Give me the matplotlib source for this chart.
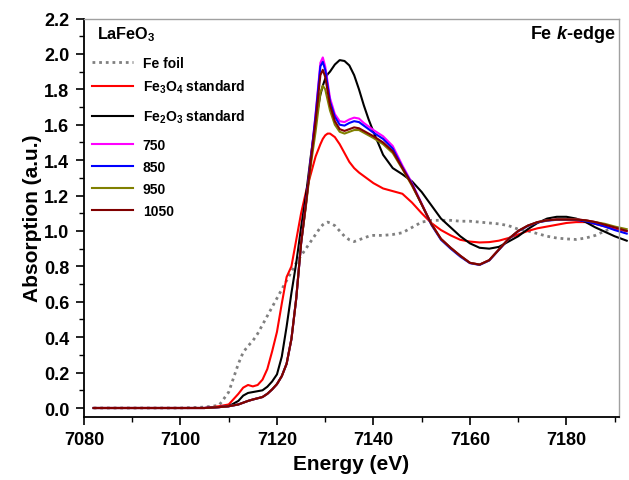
import matplotlib
matplotlib.use("Agg")
import matplotlib.pyplot as plt
from matplotlib.ticker import MultipleLocator, FormatStrFormatter
from matplotlib.lines import Line2D

plt.rcParams['font.family'] = ['Liberation Sans', 'DejaVu Sans']
plt.rcParams['font.weight'] = 'bold'
plt.rcParams['mathtext.fontset'] = 'custom'
plt.rcParams['mathtext.rm'] = 'Liberation Sans:bold'
plt.rcParams['mathtext.bf'] = 'Liberation Sans:bold'
plt.rcParams['mathtext.it'] = 'Liberation Sans:italic:bold'
plt.rcParams['mathtext.default'] = 'rm'

energy = [7082, 7090, 7100, 7105, 7108, 7110, 7112, 7113, 7114, 7115, 7116, 7117,
          7118, 7119, 7120, 7121, 7122, 7123, 7124, 7125, 7126, 7127, 7128, 7129,
          7129.5, 7130, 7130.5, 7131, 7132, 7133, 7134, 7135, 7136, 7137, 7138, 7139,
          7140, 7142, 7144, 7146, 7148, 7150, 7152, 7154, 7156, 7158, 7160, 7162,
          7164, 7166, 7168, 7170, 7172, 7174, 7176, 7178, 7180, 7182, 7184, 7186,
          7188, 7190, 7192.5]

fe_foil = [0.0, 0.0, 0.0, 0.005, 0.015, 0.09, 0.25, 0.315, 0.35, 0.38, 0.42, 0.47,
           0.52, 0.57, 0.62, 0.67, 0.72, 0.77, 0.82, 0.86, 0.90, 0.94, 0.98, 1.02,
           1.035, 1.045, 1.05, 1.045, 1.03, 1.0, 0.97, 0.95, 0.94, 0.95, 0.96, 0.97,
           0.975, 0.975, 0.98, 0.99, 1.02, 1.05, 1.06, 1.06, 1.06, 1.055, 1.055, 1.05,
           1.045, 1.04, 1.03, 1.01, 1.0, 0.985, 0.97, 0.96, 0.955, 0.952, 0.96, 0.975,
           1.0, 1.02, 1.0]

fe3o4 = [0.0, 0.0, 0.0, 0.0, 0.01, 0.02, 0.08, 0.115, 0.13, 0.122, 0.13, 0.16,
         0.22, 0.32, 0.43, 0.59, 0.74, 0.80, 0.95, 1.10, 1.22, 1.32, 1.42, 1.49,
         1.52, 1.54, 1.55, 1.55, 1.53, 1.49, 1.44, 1.39, 1.355, 1.33, 1.31, 1.29,
         1.27, 1.24, 1.225, 1.21, 1.16, 1.10, 1.045, 1.005, 0.975, 0.95, 0.94, 0.935,
         0.937, 0.945, 0.96, 0.98, 1.0, 1.015, 1.025, 1.035, 1.045, 1.05, 1.05, 1.04,
         1.025, 1.01, 1.0]

fe2o3 = [0.0, 0.0, 0.0, 0.0, 0.005, 0.01, 0.04, 0.07, 0.085, 0.09, 0.095, 0.10,
         0.12, 0.15, 0.19, 0.29, 0.46, 0.65, 0.82, 1.02, 1.20, 1.42, 1.62, 1.77,
         1.82, 1.86, 1.885, 1.90, 1.94, 1.965, 1.96, 1.935, 1.88, 1.80, 1.71, 1.63,
         1.56, 1.43, 1.355, 1.32, 1.28, 1.22, 1.145, 1.07, 1.02, 0.97, 0.93, 0.905,
         0.90, 0.91, 0.94, 0.97, 1.01, 1.045, 1.07, 1.08, 1.08, 1.07, 1.05, 1.02,
         0.995, 0.97, 0.945]

s750 = [0.0, 0.0, 0.0, 0.0, 0.005, 0.01, 0.02, 0.03, 0.04, 0.048, 0.055, 0.062,
        0.08, 0.105, 0.135, 0.18, 0.25, 0.39, 0.62, 0.93, 1.15, 1.40, 1.66, 1.95,
        1.98, 1.93, 1.84, 1.75, 1.66, 1.62, 1.615, 1.63, 1.64, 1.635, 1.61, 1.59,
        1.57, 1.535, 1.48, 1.37, 1.27, 1.155, 1.04, 0.955, 0.905, 0.86, 0.82, 0.81,
        0.835, 0.895, 0.955, 1.0, 1.03, 1.05, 1.06, 1.065, 1.065, 1.065, 1.06, 1.05,
        1.035, 1.02, 1.0]

s850 = [0.0, 0.0, 0.0, 0.0, 0.005, 0.01, 0.02, 0.03, 0.04, 0.048, 0.055, 0.062,
        0.08, 0.105, 0.135, 0.18, 0.25, 0.39, 0.62, 0.93, 1.15, 1.40, 1.65, 1.93,
        1.955, 1.91, 1.82, 1.73, 1.645, 1.60, 1.595, 1.61, 1.62, 1.615, 1.595, 1.575,
        1.555, 1.52, 1.465, 1.36, 1.265, 1.15, 1.035, 0.95, 0.9, 0.855, 0.818, 0.808,
        0.833, 0.893, 0.953, 0.998, 1.028, 1.048, 1.058, 1.063, 1.063, 1.062, 1.055, 1.04,
        1.025, 1.005, 0.985]

s950 = [0.0, 0.0, 0.0, 0.0, 0.005, 0.01, 0.02, 0.03, 0.04, 0.048, 0.055, 0.062,
        0.08, 0.105, 0.135, 0.18, 0.25, 0.39, 0.62, 0.93, 1.14, 1.37, 1.56, 1.78,
        1.82, 1.80, 1.74, 1.68, 1.60, 1.56, 1.55, 1.56, 1.57, 1.57, 1.555, 1.54,
        1.525, 1.49, 1.44, 1.35, 1.255, 1.15, 1.04, 0.955, 0.905, 0.86, 0.82, 0.81,
        0.835, 0.895, 0.955, 1.0, 1.03, 1.05, 1.06, 1.065, 1.065, 1.065, 1.06, 1.05,
        1.04, 1.025, 1.01]

s1050 = [0.0, 0.0, 0.0, 0.0, 0.005, 0.01, 0.02, 0.03, 0.04, 0.048, 0.055, 0.062,
         0.08, 0.105, 0.135, 0.18, 0.25, 0.39, 0.62, 0.93, 1.15, 1.39, 1.62, 1.88,
         1.91, 1.87, 1.79, 1.71, 1.62, 1.575, 1.565, 1.575, 1.585, 1.58, 1.565, 1.55,
         1.535, 1.50, 1.45, 1.355, 1.26, 1.15, 1.04, 0.955, 0.905, 0.86, 0.82, 0.81,
         0.835, 0.895, 0.955, 1.0, 1.03, 1.05, 1.06, 1.065, 1.065, 1.065, 1.06, 1.05,
         1.035, 1.02, 1.0]

labels = ['Fe foil', r'Fe$_{3}$O$_{4}$ standard', r'Fe$_{2}$O$_{3}$ standard',
          '750', '850', '950', '1050']
colors = ['#808080', '#FF0000', '#000000', '#FF00FF', '#0000FF', '#808000', '#800000']
styles = [(0, (1, 1.4)), '-', '-', '-', '-', '-', '-']
widths = [2.0, 1.5, 1.5, 1.5, 1.5, 1.5, 1.5]
data = [fe_foil, fe3o4, fe2o3, s750, s850, s950, s1050]

# legend row positions (axes fraction), hand-placed like the original layout
legend_rows = [0.8915, 0.8304, 0.7558, 0.6847, 0.6302, 0.5741, 0.5188]

W, H = 629, 481
fig = plt.figure(figsize=(W / 100, H / 100), dpi=100)
ax = fig.add_axes([84 / W, 1 - 417.5 / H, (619 - 84) / W, (417.5 - 19.5) / H])

for vals, lab, col, ls, lw in zip(data, labels, colors, styles, widths):
    ax.plot(energy, vals, color=col, linestyle=ls, lw=lw, label=lab, clip_on=False)

ax.set_xlim(7080, 7190.9)
ax.set_ylim(-0.048, 2.2)
ax.xaxis.set_major_locator(MultipleLocator(20))
ax.xaxis.set_minor_locator(MultipleLocator(10))
ax.yaxis.set_major_locator(MultipleLocator(0.2))
ax.yaxis.set_minor_locator(MultipleLocator(0.1))
ax.yaxis.set_major_formatter(FormatStrFormatter('%.1f'))

ax.tick_params(which='major', direction='out', length=5.5, width=1.2, labelsize=13, pad=5)
ax.tick_params(which='minor', direction='out', length=3.3, width=1.0)
ax.tick_params(top=False, right=False)
for s in ['left', 'bottom']:
    ax.spines[s].set_linewidth(1.3)
for s in ['top', 'right']:
    ax.spines[s].set_color('#a0a0a0')
    ax.spines[s].set_linewidth(1.0)

for lbl in ax.get_xticklabels() + ax.get_yticklabels():
    lbl.set_fontweight('bold')

ax.set_xlabel('Energy (eV)', fontsize=15, fontweight='bold', labelpad=4)
ax.set_ylabel('Absorption (a.u.)', fontsize=15, fontweight='bold', labelpad=1.5)

ax.text(0.0237, 0.951, r'LaFeO$_{3}$', transform=ax.transAxes, fontsize=11.7,
        fontweight='bold', va='baseline', ha='left')
ax.text(0.9925, 0.950, r'Fe $\mathit{k}$-edge', transform=ax.transAxes, fontsize=13,
        fontweight='bold', va='baseline', ha='right')

# legend entries
for fy, lab, col, ls, lw in zip(legend_rows, labels, colors, styles, widths):
    ax.add_line(Line2D([0.015, 0.0916], [fy, fy], transform=ax.transAxes,
                       color=col, linestyle=ls, lw=lw))
    ax.text(0.110, fy - 0.0126, lab, transform=ax.transAxes, fontsize=10,
            fontweight='bold', va='baseline', ha='left')

fig.savefig('out.png', dpi=100)
